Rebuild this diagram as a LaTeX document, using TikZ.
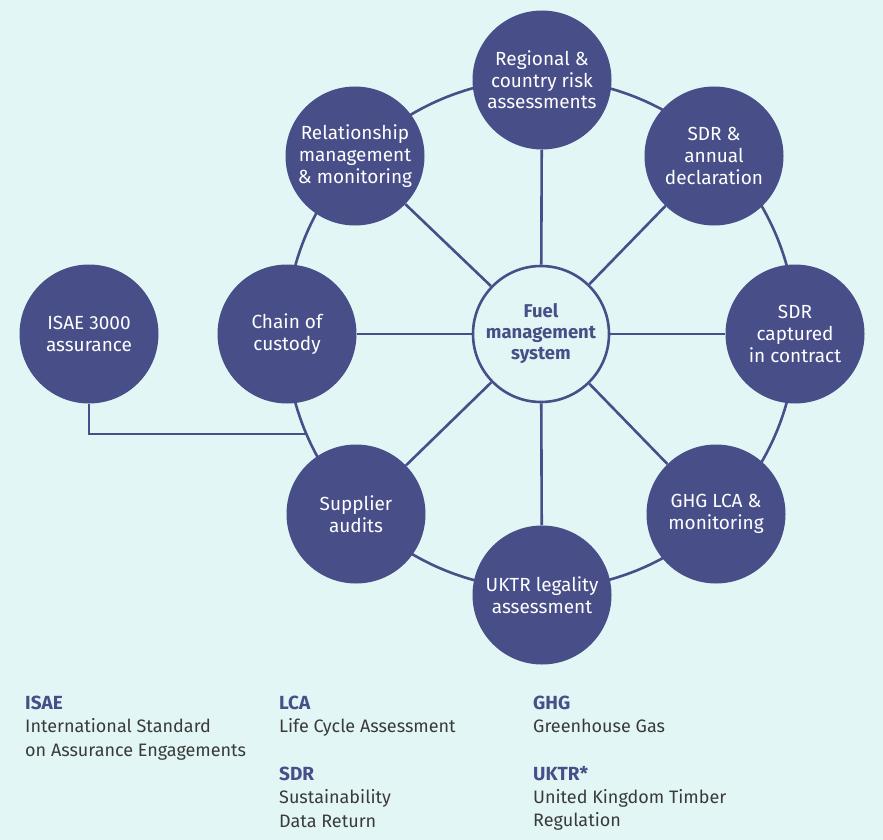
\documentclass[tikz,border=0pt]{standalone}
\usepackage{fontspec}
\setmainfont{Fira Sans}
\usepackage{xcolor}
\usetikzlibrary{positioning}

\definecolor{fmsblue}{HTML}{474E88}
\definecolor{fmsbg}{HTML}{E2F7F5}
\definecolor{fmstext}{HTML}{3A3A3A}

% bold heading of an abbreviation entry
\newcommand{\keyhead}[1]{\textcolor{fmsblue}{\fontsize{19}{23.3}\selectfont\bfseries #1}}

\begin{document}
\begin{tikzpicture}[
    x=1pt, y=-1pt,
    pillar/.style={circle, fill=fmsblue, text=white, minimum size=139pt, inner sep=0pt, align=center, font=\fontsize{19}{21.7}\selectfont},
    hubnode/.style={circle, draw=fmsblue, line width=2.6pt, fill=fmsbg, minimum size=136pt, inner sep=0pt, align=center, text=fmsblue, font=\fontsize{18.5}{21}\selectfont\bfseries},
    spoke/.style={draw=fmsblue, line width=2.6pt},
    keyentry/.style={anchor=north west, inner sep=0pt, align=left, text=fmstext, font=\fontsize{18}{23.3}\selectfont},
]
    \fill[fmsbg] (0,0) rectangle (883,840);

    % outer ring behind the circles
    \draw[spoke] (541,334) circle[radius=255pt];

    \node[hubnode] (hub) at (541,334) {Fuel\\management\\system};

    \node[pillar] (top)  at (542,80)  {Regional \&\\country risk\\assessments};
    \node[pillar] (sdra) at (714,156) {SDR \&\\annual\\declaration};
    \node[pillar] (sdrc) at (795,334) {SDR\\captured\\in contract};
    \node[pillar] (ghg)  at (716,514) {GHG LCA \&\\monitoring};
    \node[pillar] (uktr) at (542,595) {UKTR legality\\assessment};
    \node[pillar] (sup)  at (356,514) {Supplier\\audits};
    \node[pillar] (coc)  at (287,334) {Chain of\\custody};
    \node[pillar] (rel)  at (355,156) {Relationship\\management\\\& monitoring};

    \node[pillar] (isae) at (89,334) {ISAE 3000\\assurance};

    \foreach \n in {top,sdra,sdrc,ghg,uktr,sup,coc,rel}
        \draw[spoke] (hub) -- (\n);

    \coordinate (isaejoin) at (306.5,434);
    \draw[spoke] (isae) |- (isaejoin);

    % abbreviations
    \node[keyentry] (isaekey) at (25,696) {\keyhead{ISAE}\\International Standard\\on Assurance Engagements};
    \node[keyentry] (lcakey)  at (279,696) {\keyhead{LCA}\\Life Cycle Assessment};
    \node[keyentry] (ghgkey)  at (533,696) {\keyhead{GHG}\\Greenhouse Gas};
    \node[keyentry] (sdrkey)  at (279,767) {\keyhead{SDR}\\Sustainability\\Data Return};
    \node[keyentry] (uktrkey) at (533,766) {\keyhead{UKTR*}\\United Kingdom Timber\\Regulation};
\end{tikzpicture}
\end{document}
